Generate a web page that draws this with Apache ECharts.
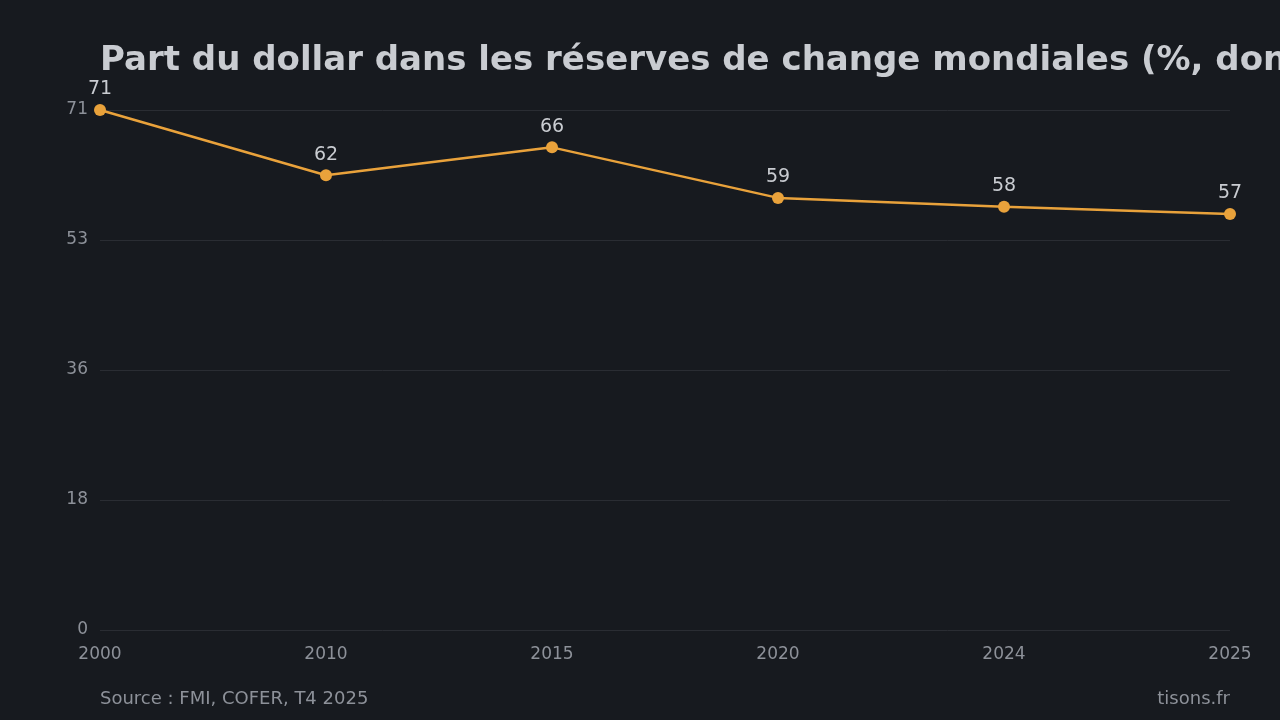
<!DOCTYPE html>
<html>
<head>
<meta charset="utf-8">
<script src="https://cdn.jsdelivr.net/npm/echarts@6/dist/echarts.min.js"></script>
<style>
  html, body { margin: 0; padding: 0; background: #171a1f; }
  #main { width: 1280px; height: 720px; }
</style>
</head>
<body>
<div id="main"></div>
<script>
// données
var annees = ['2000', '2010', '2015', '2020', '2024', '2025'];
var partDollar = [71.0, 62.1, 65.9, 59.0, 57.8, 56.8];
var titre = 'Part du dollar dans les réserves de change mondiales (%, données FMI)';
var source = 'Source : FMI, COFER, T4 2025';
var marque = 'tisons.fr';

var chart = echarts.init(document.getElementById('main'));

var option = {
  backgroundColor: '#171a1f',
  textStyle: { fontFamily: 'DejaVu Sans' },
  title: {
    text: titre,
    left: 95,
    top: 39,
    textStyle: { color: '#c9ccd1', fontSize: 34, fontWeight: 'bold', fontFamily: 'DejaVu Sans' }
  },
  graphic: [
    {
      type: 'text', left: 100, top: 690,
      style: { text: source, fill: '#8d9199', fontSize: 18, fontFamily: 'DejaVu Sans' }
    },
    {
      type: 'text', right: 50, top: 690,
      style: { text: marque, fill: '#8d9199', fontSize: 18, fontFamily: 'DejaVu Sans' }
    }
  ],
  grid: { left: 100, right: 50, top: 110, bottom: 90, containLabel: false },
  xAxis: {
    type: 'category',
    data: annees,
    boundaryGap: false,
    axisLine: { show: false },
    axisTick: { show: false },
    axisLabel: { color: '#8d9199', fontSize: 17, margin: 16, fontFamily: 'DejaVu Sans' },
    splitLine: { show: false }
  },
  yAxis: {
    type: 'value',
    min: 0,
    max: 71,
    interval: 17.75,
    axisLine: { show: false },
    axisTick: { show: false },
    axisLabel: {
      color: '#8d9199', fontSize: 17, margin: 12, fontFamily: 'DejaVu Sans',
      padding: [4, 0, 0, 0],
      formatter: function (v) { return Math.round(v); }
    },
    splitLine: { lineStyle: { color: '#2a2d33', width: 1 } }
  },
  series: [{
    type: 'line',
    data: partDollar,
    symbol: 'circle',
    symbolSize: 12,
    lineStyle: { color: '#e9a23b', width: 2.5 },
    itemStyle: { color: '#e9a23b' },
    label: {
      show: true,
      position: 'top',
      distance: 5,
      color: '#c9ccd1',
      fontSize: 19,
      fontFamily: 'DejaVu Sans',
      formatter: function (p) { return Math.round(p.value); }
    },
    animation: false
  }]
};

chart.setOption(option);
</script>
</body>
</html>
